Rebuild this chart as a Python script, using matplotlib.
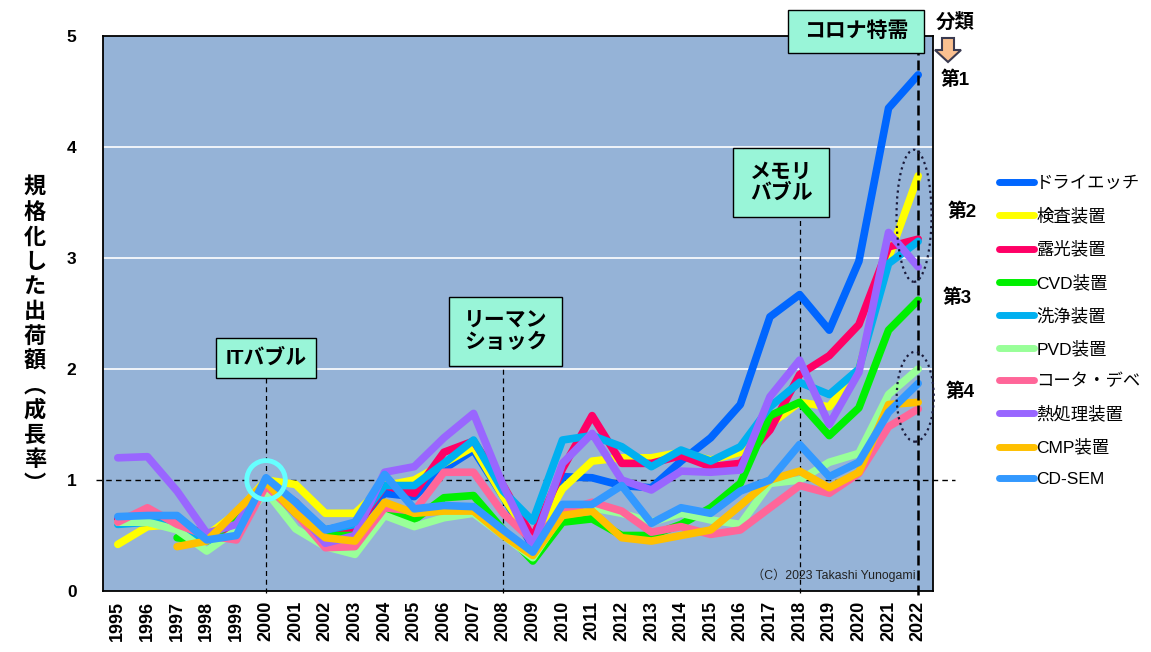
import numpy as np
import matplotlib
matplotlib.use("Agg")
from matplotlib import pyplot as plt
from matplotlib.patches import Rectangle, Ellipse, Polygon

plt.rcParams['font.family'] = ['Liberation Sans', 'Noto Sans CJK JP', 'DejaVu Sans']
JP = ['Noto Sans CJK JP', 'DejaVu Sans']
nan = np.nan

years = [str(y) for y in range(1995, 2023)]

labels = ['ドライエッチ', '検査装置', '露光装置', 'CVD装置', '洗浄装置',
          'PVD装置', 'コータ・デベ', '熱処理装置', 'CMP装置', 'CD-SEM']
colors = ['#0066FF', '#FFFF00', '#FF0066', '#00F000', '#00B0F0',
          '#99FF99', '#FF6699', '#9966FF', '#FFC000', '#3399FF']

dry_etch = [0.65, 0.68, 0.62, 0.48, 0.55, 1.00, 0.75, 0.55, 0.60, 0.88, 0.85, 1.10, 1.27, 0.85,
            0.40, 1.03, 1.02, 0.95, 0.93, 1.17, 1.38, 1.68, 2.47, 2.67, 2.35, 2.97, 4.35, 4.65]
inspection = [0.42, 0.58, 0.60, 0.50, 0.70, 1.00, 0.96, 0.70, 0.70, 0.95, 1.00, 1.15, 1.30, 0.85,
              0.45, 0.92, 1.17, 1.20, 1.20, 1.25, 1.18, 1.25, 1.50, 1.70, 1.66, 2.00, 3.00, 3.74]
litho = [0.65, 0.70, 0.62, 0.50, 0.55, 0.98, 0.80, 0.50, 0.55, 0.95, 0.88, 1.25, 1.35, 0.95,
         0.48, 1.10, 1.58, 1.15, 1.15, 1.22, 1.12, 1.15, 1.45, 1.95, 2.12, 2.40, 3.10, 3.17]
cvd = [nan, nan, 0.48, 0.45, 0.65, 0.95, 0.70, 0.50, 0.50, 0.75, 0.64, 0.84, 0.86, 0.55,
       0.27, 0.62, 0.65, 0.50, 0.50, 0.60, 0.75, 0.97, 1.58, 1.70, 1.40, 1.65, 2.35, 2.62]
cleaning = [0.60, 0.62, 0.60, 0.45, 0.50, 1.00, 0.75, 0.55, 0.60, 0.95, 0.95, 1.15, 1.36, 0.90,
            0.63, 1.36, 1.40, 1.30, 1.12, 1.27, 1.17, 1.30, 1.66, 1.88, 1.77, 2.00, 2.95, 3.15]
pvd = [0.62, 0.62, 0.55, 0.36, 0.55, 0.90, 0.56, 0.40, 0.33, 0.68, 0.58, 0.66, 0.70, 0.50,
       0.30, 0.70, 0.75, 0.70, 0.62, 0.70, 0.64, 0.60, 0.97, 1.00, 1.16, 1.24, 1.77, 2.00]
coater = [0.62, 0.75, 0.60, 0.50, 0.46, 0.95, 0.70, 0.39, 0.40, 0.75, 0.72, 1.07, 1.07, 0.70,
          0.45, 0.72, 0.80, 0.72, 0.53, 0.58, 0.51, 0.55, 0.75, 0.95, 0.88, 1.06, 1.48, 1.64]
thermal = [1.20, 1.21, 0.90, 0.52, 0.60, 1.00, 0.75, 0.43, 0.50, 1.07, 1.12, 1.38, 1.60, 0.95,
           0.40, 1.15, 1.42, 1.00, 0.91, 1.08, 1.07, 1.09, 1.75, 2.08, 1.50, 1.97, 3.23, 2.92]
cmp_ = [nan, nan, 0.40, 0.45, 0.72, 0.98, 0.70, 0.48, 0.45, 0.80, 0.70, 0.72, 0.72, 0.50,
        0.32, 0.68, 0.72, 0.48, 0.45, 0.50, 0.55, 0.77, 1.00, 1.08, 0.93, 1.07, 1.68, 1.70]
cd_sem = [0.67, 0.68, 0.68, 0.46, 0.50, 1.02, 0.80, 0.55, 0.62, 1.05, 0.74, 0.77, 0.76, 0.55,
          0.35, 0.78, 0.78, 0.95, 0.61, 0.75, 0.70, 0.90, 1.00, 1.32, 1.03, 1.16, 1.61, 1.87]

series = [dry_etch, inspection, litho, cvd, cleaning, pvd, coater, thermal, cmp_, cd_sem]

W, H = 1151, 652
fig = plt.figure(figsize=(W / 100, H / 100), dpi=100)
ax = fig.add_axes([103 / W, 1 - 591 / H, 830 / W, 555 / H])
ax.set_facecolor('#95B3D7')
x = np.arange(len(years))

for yv in [2, 3, 4]:
    ax.axhline(yv, color='white', lw=1.2, zorder=0.5)
ax.axhline(1, xmin=-0.008, xmax=1.027, color='black', lw=1, ls=(0, (4, 3)),
           clip_on=False, zorder=1)

for vals, lab, col in zip(series, labels, colors):
    ax.plot(x, vals, color=col, lw=5.5, label=lab, solid_capstyle='round',
            solid_joinstyle='round', zorder=3)

# event marker lines
for xi, ytop in [(5, 1.92), (13, 2.03), (23, 3.37)]:
    ax.plot([xi, xi], [-0.02, ytop], color='black', lw=0.9, ls=(0, (4, 3)),
            clip_on=False, zorder=2)
ax.plot([27, 27], [-0.04, 4.9], color='black', lw=1.8, ls=(0, (4, 2)),
        clip_on=False, zorder=4)

ax.set_xlim(-0.5, len(years) - 0.5)
ax.set_ylim(0, 5)
ax.set_xticks(x)
ax.set_xticklabels(years, rotation=90, fontsize=13, fontweight='bold')
ax.set_yticks([0, 1, 2, 3, 4, 5])
ax.set_yticklabels(['0', '1', '2', '3', '4', '5'], fontsize=12.5, fontweight='bold')
ax.tick_params(axis='y', length=0, pad=19)
ax.tick_params(axis='x', length=0, pad=7)
for sp in ax.spines.values():
    sp.set_color('black')
    sp.set_linewidth(1.3)

# event boxes
boxes = [(5, 2.10, 3.37, 0.36, 'ITバブル'),
         (13.08, 2.34, 3.81, 0.62, 'リーマン\nショック'),
         (22.38, 3.68, 3.24, 0.63, 'メモリ\nバブル'),
         (24.9, 5.04, 4.59, 0.39, 'コロナ特需')]
for cx, cy, bw, bh, txt in boxes:
    ax.add_patch(Rectangle((cx - bw / 2, cy - bh / 2), bw, bh, facecolor='#99F5D8',
                           edgecolor='black', lw=1, clip_on=False, zorder=5))
    ax.text(cx, cy, txt, ha='center', va='center', fontsize=15, fontweight='bold',
            linespacing=1.15, zorder=6, family=['Liberation Sans'] + JP)

ax.add_patch(Ellipse((5, 1.0), 1.3, 0.35, facecolor='none', edgecolor='#66FFFF',
                     lw=3.5, zorder=6))
ax.add_patch(Ellipse((26.86, 3.38), 1.18, 1.19, facecolor='none', edgecolor='#1A1A3A',
                     lw=1.6, ls=':', clip_on=False, zorder=6))
ax.add_patch(Ellipse((26.9, 1.75), 1.25, 0.81, facecolor='none', edgecolor='#1A1A3A',
                     lw=1.6, ls=':', clip_on=False, zorder=6))

ax.text(0.782, 0.022, '（C）2023 Takashi Yunogami', transform=ax.transAxes,
        fontsize=8.8, color='#222222', zorder=6)

# right side classification
def fp(px, py):
    return (px / W, 1 - py / H)

fig.text(*fp(955, 22), '分類', ha='center', va='center', fontsize=14,
         fontweight='bold', family=JP)
arrow = [fp(942, 38), fp(954, 38), fp(954, 50), fp(961, 50), fp(948, 62),
         fp(935, 50), fp(942, 50)]
fig.add_artist(Polygon(arrow, closed=True, facecolor='#FAC090', edgecolor='#3A3A50',
                       lw=1.5, transform=fig.transFigure))
for txt, px, py in [('第1', 955, 80), ('第2', 962, 212), ('第3', 957, 298), ('第4', 960, 392)]:
    fig.text(*fp(px, py), txt, ha='center', va='center', fontsize=13.5,
             fontweight='bold', family=['Liberation Sans'] + JP)

ylabel = '規格化した出荷額︵成長率︶'
fig.text(*fp(35, 336), '\n'.join(ylabel), ha='center', va='center', fontsize=16,
         fontweight='bold', linespacing=1.1, family=JP)

leg = ax.legend(loc='upper left', bbox_to_anchor=fp(999, 176),
                bbox_transform=fig.transFigure, frameon=False, fontsize=12.5,
                handlelength=2.0, handletextpad=0.15, labelspacing=0.95,
                borderpad=0, borderaxespad=0)
for line in leg.get_lines():
    line.set_linewidth(5)
    line.set_solid_capstyle('round')

fig.savefig('out.png', dpi=100, facecolor='white')
